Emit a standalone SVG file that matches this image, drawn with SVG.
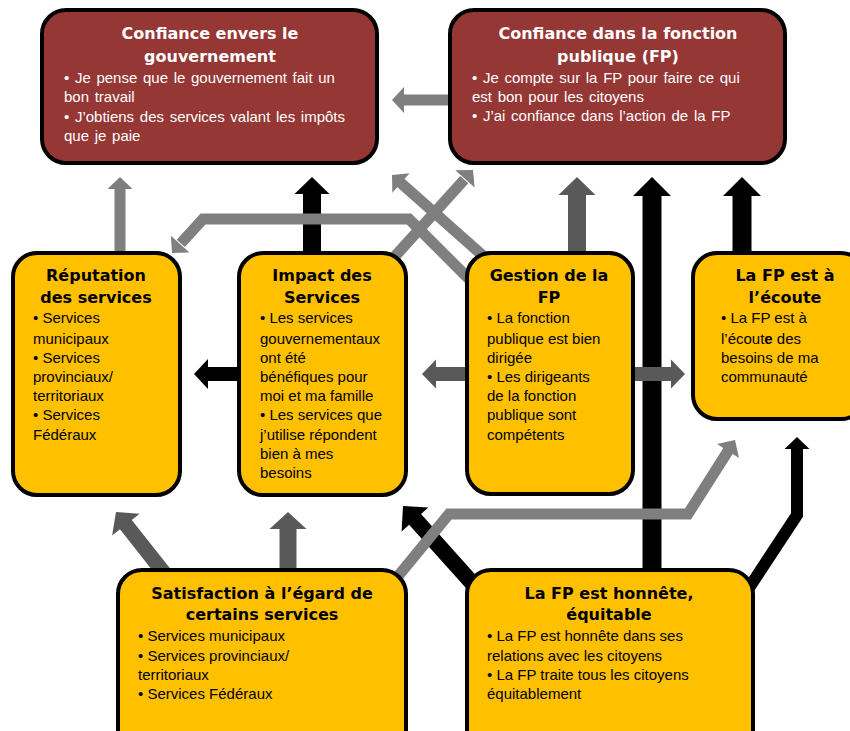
<svg xmlns="http://www.w3.org/2000/svg" width="850" height="731" viewBox="0 0 850 731">
<style>
.red{fill:#953735;stroke:#000;stroke-width:4}
.yel{fill:#FFC000;stroke:#000;stroke-width:4}
.t{font-family:"DejaVu Sans",Verdana,sans-serif;font-weight:bold;font-size:16px;text-anchor:middle}
.b{font-family:"Liberation Sans",Arial,sans-serif;font-size:15px}
.w{fill:#fff}
.ws{word-spacing:1.5px}
.k{fill:#000}
.sh{fill:none;stroke-linejoin:miter;stroke-miterlimit:10}
.lg{stroke:#7f7f7f}.lgf{fill:#7f7f7f}
.mg{stroke:#595959}.mgf{fill:#595959}
.bk{stroke:#000}.bkf{fill:#000}
</style>
<rect width="850" height="731" fill="#fff"/>
<g id="connectors">
  <!-- FP -> gouvernement -->
  <path class="sh lg" stroke-width="11" d="M452,100 H403"/>
  <polygon class="lgf" points="0,0 -12,-13 -12,13" transform="translate(392,100) rotate(180)"/>
  <!-- Reputation up -->
  <path class="sh lg" stroke-width="11" d="M120,255 V188"/>
  <polygon class="lgf" points="0,0 -12,-12.5 -12,12.5" transform="translate(120,177) rotate(-90)"/>
  <!-- Impact up -->
  <path class="sh bk" stroke-width="18" d="M312,255 V193"/>
  <polygon class="bkf" points="0,0 -17,-17.5 -17,17.5" transform="translate(312,177) rotate(-90)"/>
  <!-- Gestion up -->
  <path class="sh mg" stroke-width="18" d="M577,255 V194"/>
  <polygon class="mgf" points="0,0 -18,-18.5 -18,18.5" transform="translate(577,177) rotate(-90)"/>
  <!-- Honnete long up -->
  <path class="sh bk" stroke-width="19" d="M652,572 V195"/>
  <polygon class="bkf" points="0,0 -19,-19 -19,19" transform="translate(652,177) rotate(-90)"/>
  <!-- Ecoute up -->
  <path class="sh bk" stroke-width="19" d="M742,255 V195"/>
  <polygon class="bkf" points="0,0 -19,-19 -19,19" transform="translate(742,177) rotate(-90)"/>
  <!-- Gestion left -->
  <path class="sh mg" stroke-width="14" d="M469,374 H435"/>
  <polygon class="mgf" points="0,0 -14,-14.5 -14,14.5" transform="translate(422,374) rotate(180)"/>
  <!-- Gestion right -->
  <path class="sh mg" stroke-width="14" d="M631,374 H672"/>
  <polygon class="mgf" points="0,0 -14,-14.5 -14,14.5" transform="translate(685,374)"/>
  <!-- Impact left -->
  <path class="sh bk" stroke-width="14" d="M241,374 H207"/>
  <polygon class="bkf" points="0,0 -14,-15 -14,15" transform="translate(194,374) rotate(180)"/>
  <!-- Satisfaction up -->
  <path class="sh mg" stroke-width="17" d="M288,572 V528"/>
  <polygon class="mgf" points="0,0 -17,-18.5 -17,18.5" transform="translate(288,512) rotate(-90)"/>
  <!-- Satisfaction -> Reputation -->
  <path class="sh mg" stroke-width="15" d="M168,578 L125.3,523.8"/>
  <polygon class="mgf" points="0,0 -16,-17.5 -16,17.5" transform="translate(116,512) rotate(-128.2)"/>
  <!-- Honnete -> Impact -->
  <path class="sh bk" stroke-width="16" d="M482,594 L414.4,518.7"/>
  <polygon class="bkf" points="0,0 -18,-18 -18,18" transform="translate(403,506) rotate(-131.9)"/>
  <!-- Satisfaction -> Ecoute -->
  <path class="sh lg" stroke-width="11" d="M390,586 L449,514 H688 L728.5,450.2"/>
  <polygon class="lgf" points="0,0 -13,-13 -13,13" transform="translate(735,440) rotate(-57.6)"/>
  <!-- Honnete -> Ecoute -->
  <path class="sh bk" stroke-width="12" d="M745,594 L797,515 V448"/>
  <polygon class="bkf" points="0,0 -12,-12.5 -12,12.5" transform="translate(797,437) rotate(-90)"/>
  <!-- Gestion -> gouvernement -->
  <path class="sh lg" stroke-width="11" d="M490,262 L400.2,182.3"/>
  <polygon class="lgf" points="0,0 -12,-13 -12,13" transform="translate(392,175) rotate(-138.4)"/>
  <!-- Gestion -> Reputation -->
  <path class="sh lg" stroke-width="11" d="M476,286 L409,219 H203 L180.8,243.4"/>
  <polygon class="lgf" points="0,0 -12,-12.5 -12,12.5" transform="translate(172,253) rotate(132.4)"/>
  <!-- Impact -> FP -->
  <path class="sh lg" stroke-width="11" d="M388,264 L464.3,179.6"/>
  <polygon class="lgf" points="0,0 -12,-13 -12,13" transform="translate(473,170) rotate(-47.9)"/>
</g>
<g id="n-gov">
  <rect class="red" x="42" y="10" width="335" height="153" rx="24"/>
  <text class="t w" x="210" y="39">Confiance envers le</text>
  <text class="t w" x="210" y="62">gouvernement</text>
  <text class="b w ws" x="64" y="83">• Je pense que le gouvernement fait un</text>
  <text class="b w ws" x="64" y="102">bon travail</text>
  <text class="b w ws" x="64" y="122">• J’obtiens des services valant les impôts</text>
  <text class="b w ws" x="64" y="141">que je paie</text>
</g>
<g id="n-fp">
  <rect class="red" x="450" y="10" width="335" height="153" rx="24"/>
  <text class="t w" x="618" y="39">Confiance dans la fonction</text>
  <text class="t w" x="618" y="62">publique (FP)</text>
  <text class="b w ws" x="472" y="83">• Je compte sur la FP pour faire ce qui</text>
  <text class="b w ws" x="472" y="102">est bon pour les citoyens</text>
  <text class="b w ws" x="472" y="121">• J’ai confiance dans l’action de la FP</text>
</g>
<g id="n-rep">
  <rect class="yel" x="13" y="253" width="167" height="242" rx="24"/>
  <text class="t k" x="96" y="281">Réputation</text>
  <text class="t k" x="96" y="303">des services</text>
  <text class="b k" x="33" y="323">• Services</text>
  <text class="b k" x="33" y="344">municipaux</text>
  <text class="b k" x="33" y="363">• Services</text>
  <text class="b k" x="33" y="382">provinciaux/</text>
  <text class="b k" x="33" y="401">territoriaux</text>
  <text class="b k" x="33" y="420">• Services</text>
  <text class="b k" x="33" y="440">Fédéraux</text>
</g>
<g id="n-impact">
  <rect class="yel" x="239" y="253" width="167" height="242" rx="24"/>
  <text class="t k" x="322" y="281">Impact des</text>
  <text class="t k" x="322" y="303">Services</text>
  <text class="b k" x="260" y="323">• Les services</text>
  <text class="b k" x="260" y="344">gouvernementaux</text>
  <text class="b k" x="260" y="363">ont été</text>
  <text class="b k" x="260" y="382">bénéfiques pour</text>
  <text class="b k" x="260" y="401">moi et ma famille</text>
  <text class="b k" x="260" y="420">• Les services que</text>
  <text class="b k" x="260" y="440">j’utilise répondent</text>
  <text class="b k" x="260" y="459">bien à mes</text>
  <text class="b k" x="260" y="478">besoins</text>
</g>
<g id="n-gestion">
  <rect class="yel" x="467" y="253" width="166" height="241" rx="24"/>
  <text class="t k" x="549" y="281">Gestion de la</text>
  <text class="t k" x="549" y="303">FP</text>
  <text class="b k" x="487" y="323">• La fonction</text>
  <text class="b k" x="487" y="344">publique est bien</text>
  <text class="b k" x="487" y="363">dirigée</text>
  <text class="b k" x="487" y="382">• Les dirigeants</text>
  <text class="b k" x="487" y="401">de la fonction</text>
  <text class="b k" x="487" y="420">publique sont</text>
  <text class="b k" x="487" y="440">compétents</text>
</g>
<g id="n-ecoute">
  <rect class="yel" x="693" y="253" width="172" height="166" rx="24"/>
  <text class="t k" x="785" y="281">La FP est à</text>
  <text class="t k" x="785" y="303">l’écoute</text>
  <text class="b k" x="721" y="323">• La FP est à</text>
  <text class="b k" x="721" y="344">l’écout<tspan font-weight="bold">e</tspan> des</text>
  <text class="b k" x="721" y="363">besoins de ma</text>
  <text class="b k" x="721" y="382">communauté</text>
</g>
<g id="n-satisf">
  <rect class="yel" x="118" y="570" width="288" height="190" rx="24"/>
  <text class="t k" x="262" y="599">Satisfaction à l’égard de</text>
  <text class="t k" x="262" y="620">certains services</text>
  <text class="b k" x="138" y="641">• Services municipaux</text>
  <text class="b k" x="138" y="661">• Services provinciaux/</text>
  <text class="b k" x="138" y="680">territoriaux</text>
  <text class="b k" x="138" y="699">• Services Fédéraux</text>
</g>
<g id="n-honnete">
  <rect class="yel" x="467" y="570" width="286" height="190" rx="24"/>
  <text class="t k" x="609" y="599">La FP est honnête,</text>
  <text class="t k" x="609" y="620">équitable</text>
  <text class="b k" x="487" y="641">• La FP est honnête dans ses</text>
  <text class="b k" x="487" y="661">relations avec les citoyens</text>
  <text class="b k" x="487" y="680">• La FP traite tous les citoyens</text>
  <text class="b k" x="487" y="699">équitablement</text>
</g>
</svg>
